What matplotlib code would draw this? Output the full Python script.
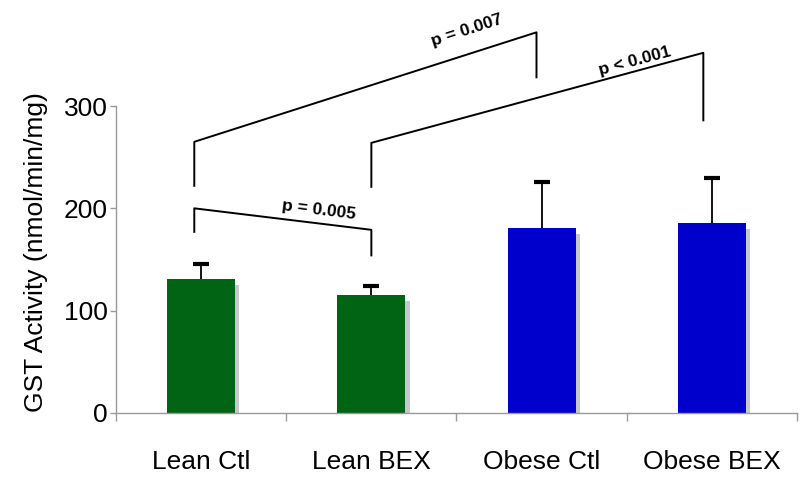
import numpy as np
import matplotlib
matplotlib.use("Agg")
import matplotlib.pyplot as plt

plt.rcParams['font.family'] = ['Liberation Sans', 'DejaVu Sans']

## Daten
groups = ['Lean Ctl', 'Lean BEX', 'Obese Ctl', 'Obese BEX']
gst_mean = np.array([131, 115, 181, 186])
gst_err = np.array([15, 9, 45, 44])
bar_colors = ['#006414', '#006414', '#0000cc', '#0000cc']

# Klammern: (x links, x rechts, y unten links, y oben links, y oben rechts, y unten rechts)
brackets = [
    (-0.04, 1.97, 222, 265, 372, 328),
    (1.00, 2.95, 221, 264, 352, 286),
    (-0.04, 1.00, 177, 200, 179, 154),
]
p_labels = ['p = 0.007', 'p < 0.001', 'p = 0.005']
p_pos = [(1.56, 374), (2.545, 344), (0.69, 198)]
p_rot = [18, 15, -7]

fig = plt.figure(figsize=(8.11, 4.79), dpi=100)
ax = fig.add_axes([0.143, 0.1378, 0.8397, 0.6409])

x = np.arange(len(groups))
w = 0.4

# Schatten
ax.bar(x + 0.025, gst_mean - 6, w, color='#c8c8c8', zorder=1)
ax.bar(x, gst_mean, w, color=bar_colors, zorder=2)
# nur obere Fehlerbalken
ax.vlines(x, gst_mean, gst_mean + gst_err, color='black', lw=1.3, zorder=3)
ax.plot(x, gst_mean + gst_err, ls='none', marker='_', markersize=12,
        mew=3, color='black', zorder=3)

for (xl, xr, ybl, ytl, ytr, ybr) in brackets:
    ax.plot([xl, xl, xr, xr], [ybl, ytl, ytr, ybr], color='black', lw=1.4,
            clip_on=False, zorder=4)

for lab, (px, py), rot in zip(p_labels, p_pos, p_rot):
    ax.text(px, py, lab, fontsize=12.5, fontweight='bold', rotation=rot,
            rotation_mode='anchor', ha='center', va='center')

ax.set_xlim(-0.5, 3.5)
ax.set_ylim(0, 300)

for s in ['top', 'right']:
    ax.spines[s].set_visible(False)
for s in ['left', 'bottom']:
    ax.spines[s].set_color('#999999')
    ax.spines[s].set_linewidth(1.0)

ax.set_yticks([0, 100, 200, 300])
ax.tick_params(axis='y', colors='#999999', length=4.5, width=1.0, labelsize=19,
               labelcolor='black', pad=1.5)
ax.set_xticks(x)
ax.set_xticklabels(groups)
ax.set_xticks(np.arange(-0.5, 4, 1.0), minor=True)
ax.tick_params(axis='x', which='major', length=0, labelsize=19, pad=27)
ax.tick_params(axis='x', which='minor', length=6, width=1.0, colors='#999999')

ax.set_ylabel('GST Activity (nmol/min/mg)', fontsize=19)
ax.yaxis.set_label_coords(-0.10, 0.524)

plt.savefig('out.png', dpi=100)
